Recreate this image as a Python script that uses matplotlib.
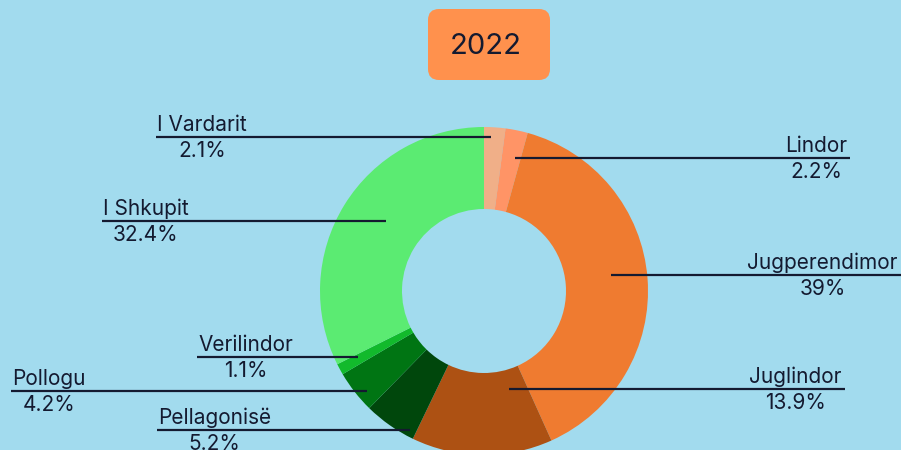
import matplotlib.pyplot as plt
from matplotlib.patches import FancyBboxPatch
import numpy as np

# data
regions = ["I Vardarit", "Lindor", "Jugperendimor", "Juglindor",
           "Pellagonisë", "Pollogu", "Verilindor", "I Shkupit"]
shares = [2.1, 2.2, 39, 13.9, 5.2, 4.2, 1.1, 32.4]
colors = ["#F0AF88", "#FF9466", "#EF7B30", "#AD5113",
          "#00470C", "#007513", "#12BA2C", "#5BEB72"]
year = "2022"

# label layout: (fraction along wedge, anchor radius, outer x of line, side)
label_layout = {
    "I Vardarit":    (0.34, 154, 156, "left"),
    "Lindor":        (0.69, 137, 850, "right"),
    "Jugperendimor": (0.48, 128, 901, "right"),
    "Juglindor":     (0.20, 101, 845, "right"),
    "Pellagonisë":   (0.11, 157, 157, "left"),
    "Pollogu":       (0.32, 154, 11, "left"),
    "Verilindor":    (0.64, 142, 197, "left"),
    "I Shkupit":     (0.53, 121, 102, "left"),
}

bg = "#A2DBEE"
ink = "#141a30"
plt.rcParams['font.family'] = ['Inter', 'DejaVu Sans']

W, H = 901, 450
fig = plt.figure(figsize=(W / 100, H / 100), dpi=100, facecolor=bg)
ax = fig.add_axes([0, 0, 1, 1])

cx, cy, R = 484, H - 291, 164
wedges, _ = ax.pie(shares, colors=colors, startangle=90, counterclock=False,
                   center=(cx, cy), radius=R, frame=True,
                   wedgeprops=dict(width=R / 2, edgecolor='none', linewidth=0))
ax.set_xlim(0, W)
ax.set_ylim(0, H)
ax.set_aspect('equal')
ax.axis('off')

# title box
ax.add_patch(FancyBboxPatch((428, H - 80), 122, 71,
                            boxstyle="round,pad=0,rounding_size=11",
                            facecolor="#FF914D", edgecolor='none'))
ax.text(486, H - 46, year, ha='center', va='center', fontsize=21, color=ink)

fig.canvas.draw()
renderer = fig.canvas.get_renderer()

start = 90.0
for name, val in zip(regions, shares):
    span = val * 3.6
    frac, r, xo, side = label_layout[name]
    ang = np.deg2rad(start - frac * span)
    start -= span
    axx = cx + r * np.cos(ang)
    ayy = cy + r * np.sin(ang)
    ax.plot([axx, xo], [ayy, ayy], color=ink, lw=1.6, solid_capstyle='butt')
    ha = 'left' if side == "left" else 'right'
    tx = xo + (1 if side == "left" else -3)
    t = ax.text(tx, ayy + 6, name, ha=ha, va='baseline', fontsize=15, color=ink)
    bb = t.get_window_extent(renderer)
    mid = (bb.x0 + bb.x1) / 2
    ax.text(mid, ayy - 4, f"{val:g}%", ha='center', va='top', fontsize=15,
            color=ink)

fig.savefig("out.png", dpi=100, facecolor=bg)
